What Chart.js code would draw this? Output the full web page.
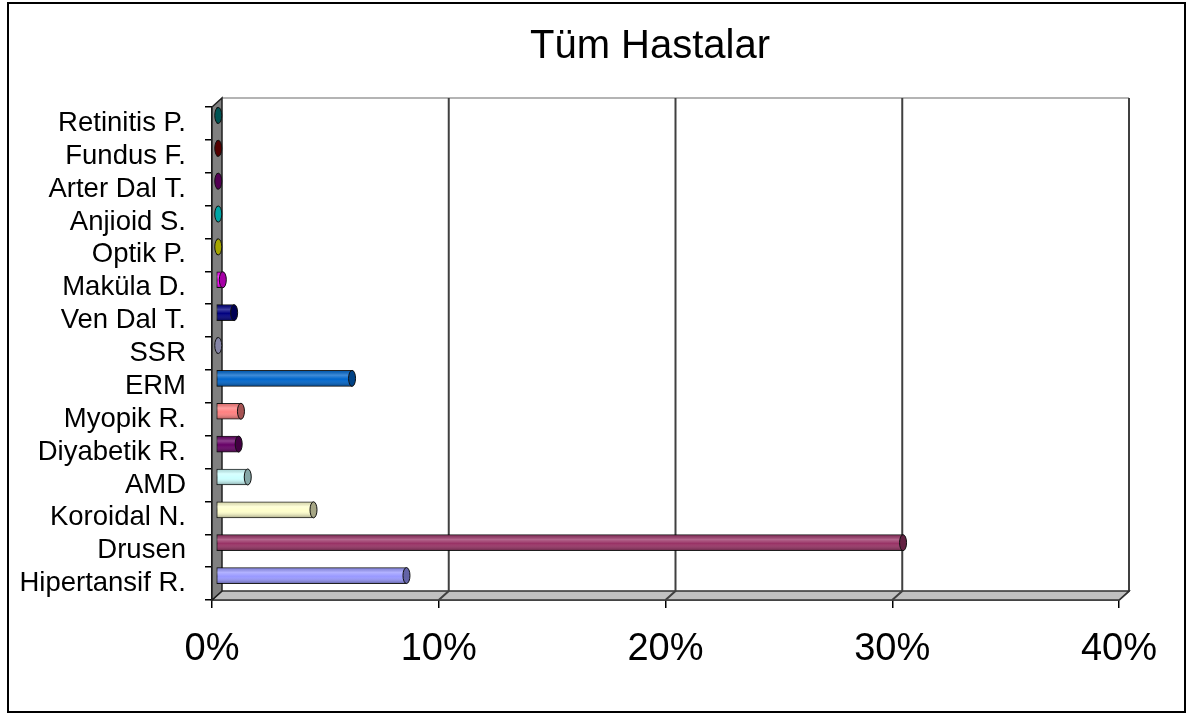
<!DOCTYPE html>
<html>
<head>
<meta charset="utf-8">
<script src="https://cdn.jsdelivr.net/npm/chart.js@4"></script>
<style>
  body { margin: 0; background: #fff; }
</style>
</head>
<body>
<canvas id="myChart" width="1193" height="717"></canvas>
<script>
// data, in series order (first one is drawn at the bottom)
var categories = ['Hipertansif R.', 'Drusen', 'Koroidal N.', 'AMD', 'Diyabetik R.', 'Myopik R.', 'ERM', 'SSR',
                  'Ven Dal T.', 'Maküla D.', 'Optik P.', 'Anjioid S.', 'Arter Dal T.', 'Fundus F.', 'Retinitis P.'];
var percents = [8.4, 30.3, 4.3, 1.4, 1.0, 1.1, 6.0, 0.1, 0.8, 0.3, 0.1, 0.1, 0.1, 0.1, 0.1];
var barColors = ['#9999ff', '#993366', '#ffffcc', '#ccffff', '#660066', '#ff8080', '#0066cc', '#ccccff',
                 '#000080', '#ff00ff', '#ffff00', '#00ffff', '#800080', '#800000', '#008080'];
var xTicks = [0, 10, 20, 30, 40];
var chartTitle = 'Tüm Hastalar';

Chart.defaults.font.family = '"Liberation Sans", Arial, sans-serif';
Chart.defaults.color = '#000';

// fake 3d depth of the plot box
var depthX = 10, depthY = -9;

var box3d = {
    id: 'box3d',
    beforeDraw: function (chart) {
        var c = chart.ctx;
        c.save();
        c.fillStyle = '#fff';
        c.fillRect(0, 0, chart.width, chart.height);
        //outer frame
        c.strokeStyle = '#000';
        c.lineWidth = 2;
        c.strokeRect(8, 3, chart.width - 16, chart.height - 8);
        c.restore();
    },
    beforeDatasetsDraw: function (chart) {
        var a = chart.chartArea, c = chart.ctx, sx = chart.scales.x;
        var L = a.left, R = a.right, T = a.top, B = a.bottom;
        c.save();
        //back wall edges
        c.strokeStyle = '#b4b4b4';
        c.lineWidth = 2;
        c.beginPath();
        c.moveTo(L + depthX, T + depthY);
        c.lineTo(R + depthX, T + depthY);
        c.stroke();
        c.strokeStyle = '#404040';
        c.beginPath();
        c.moveTo(R + depthX, T + depthY);
        c.lineTo(R + depthX, B + depthY);
        c.lineTo(R, B);
        c.stroke();

        //floor
        c.fillStyle = '#c0c0c0';
        c.strokeStyle = '#303030';
        c.lineWidth = 1.5;
        c.beginPath();
        c.moveTo(L, B);
        c.lineTo(R, B);
        c.lineTo(R + depthX, B + depthY);
        c.lineTo(L + depthX, B + depthY);
        c.closePath();
        c.fill();
        c.stroke();

        //grid lines on back wall and floor
        c.strokeStyle = '#404040';
        c.lineWidth = 2;
        c.beginPath();
        xTicks.slice(1, -1).forEach(function (v) {
            var px = sx.getPixelForValue(v);
            c.moveTo(px, B);
            c.lineTo(px + depthX, B + depthY);
            c.lineTo(px + depthX, T + depthY);
        });
        c.stroke();

        //left wall
        c.fillStyle = '#808080';
        c.strokeStyle = '#202020';
        c.lineWidth = 1.5;
        c.beginPath();
        c.moveTo(L, B);
        c.lineTo(L, T);
        c.lineTo(L + depthX, T + depthY);
        c.lineTo(L + depthX, B + depthY);
        c.closePath();
        c.fill();
        c.stroke();
        c.restore();

        //bars sit in the middle of the depth
        c.save();
        c.translate(4, -8);
    },
    afterDatasetsDraw: function (chart) {
        var c = chart.ctx;
        var meta = chart.getDatasetMeta(0);
        meta.data.forEach(function (bar, i) {
            var p = bar.getProps(['x', 'y', 'base', 'height'], true);
            var top = p.y - p.height / 2;
            //cylinder shading
            var g = c.createLinearGradient(0, top, 0, top + p.height);
            g.addColorStop(0, 'rgba(0,0,0,0.15)');
            g.addColorStop(0.3, 'rgba(255,255,255,0.25)');
            g.addColorStop(0.55, 'rgba(255,255,255,0)');
            g.addColorStop(1, 'rgba(0,0,0,0.35)');
            c.fillStyle = g;
            c.fillRect(p.base, top, p.x - p.base, p.height);
            //end cap
            c.beginPath();
            c.ellipse(p.x, p.y, 3.5, p.height / 2, 0, 0, Math.PI * 2);
            c.fillStyle = barColors[i];
            c.fill();
            c.fillStyle = 'rgba(0,0,0,0.35)';
            c.fill();
            c.strokeStyle = '#111';
            c.lineWidth = 1;
            c.stroke();
        });
        c.restore();
    },
    afterDraw: function (chart) {
        var c = chart.ctx;
        c.save();
        c.font = '40px "Liberation Sans", Arial, sans-serif';
        c.fillStyle = '#000';
        c.textAlign = 'center';
        c.textBaseline = 'alphabetic';
        c.fillText(chartTitle, 650, 58);
        c.restore();
    }
};

var ctx = document.getElementById('myChart').getContext('2d');

var myChart = new Chart(ctx, {
    type: 'bar',
    data: {
        labels: categories,
        datasets: [{
            label: chartTitle,
            data: percents,
            backgroundColor: barColors,
            borderColor: 'rgba(0, 0, 0, 0.85)',
            borderWidth: 1,
            borderSkipped: false,
            barThickness: 16
        }]
    },
    options: {
        responsive: false,
        animation: false,
        indexAxis: 'y',
        layout: {
            padding: { left: 0, right: 74, top: 107, bottom: 0 }
        },
        plugins: {
            legend: { display: false },
            title: { display: false },
            tooltip: { enabled: false }
        },
        scales: {
            x: {
                type: 'linear',
                min: 0,
                max: 40,
                afterBuildTicks: function (scale) {
                    scale.ticks = xTicks.map(function (v) { return { value: v }; });
                },
                afterFit: function (scale) { scale.height = 117; },
                ticks: {
                    font: { size: 38 },
                    padding: 19,
                    callback: function (v) { return v + '%'; }
                },
                grid: {
                    drawOnChartArea: false,
                    tickLength: 8,
                    color: '#000',
                    lineWidth: 1.5
                },
                border: { color: '#000', width: 1.5 }
            },
            y: {
                type: 'category',
                reverse: true,
                offset: true,
                afterFit: function (scale) { scale.width = 212; },
                ticks: {
                    font: { size: 27.5 },
                    padding: 19,
                    autoSkip: false
                },
                grid: {
                    offset: true,
                    drawOnChartArea: false,
                    tickLength: 7,
                    color: '#000',
                    lineWidth: 1.5
                },
                border: { color: '#000', width: 1.5 }
            }
        }
    },
    plugins: [box3d]
});
</script>
</body>
</html>
